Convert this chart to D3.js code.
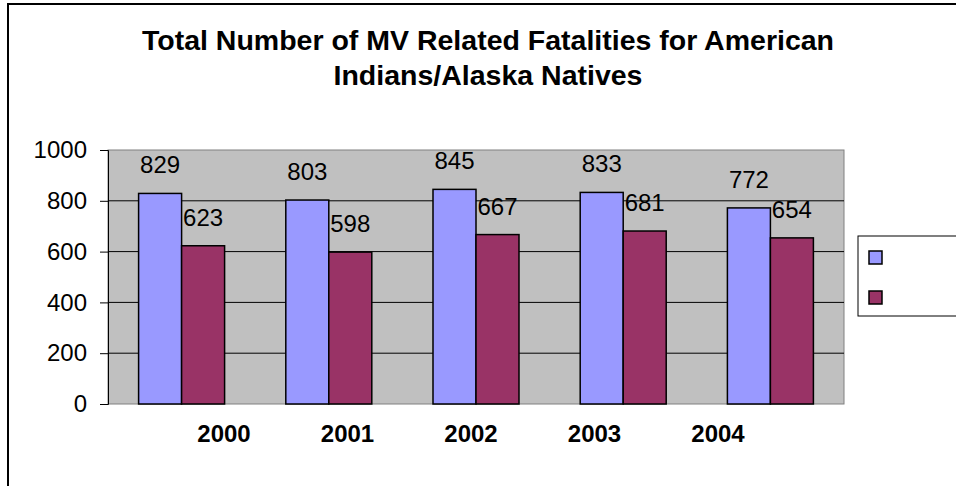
<!DOCTYPE html>
<html>
<head>
<meta charset="utf-8">
<script src="https://cdn.jsdelivr.net/npm/d3@7"></script>
<style>
  body { margin: 0; background: #fff; }
  svg text { font-family: Arial, "Liberation Sans", sans-serif; }
</style>
</head>
<body>
<svg id="chart" width="956" height="486"></svg>
<script>
const years = ['2000', '2001', '2002', '2003', '2004']
const seriesA = [829, 803, 845, 833, 772]
const seriesB = [623, 598, 667, 681, 654]
const yTicks = [0, 200, 400, 600, 800, 1000]
const titleLines = ['Total Number of MV Related Fatalities for American', 'Indians/Alaska Natives']
const colors = ['#9999ff', '#993366']

const svg = d3.select('#chart')

// outer chart border
svg.append('rect')
    .attr('x', 8).attr('y', 4).attr('width', 1000).attr('height', 540)
    .attr('fill', '#fff').attr('stroke', '#000').attr('stroke-width', 2)

const plot = { left: 108, right: 844, top: 150, bottom: 404 }

const x = d3.scaleBand().domain(years).range([plot.left, plot.right])
const y = d3.scaleLinear().domain([0, 1000]).range([plot.bottom, plot.top])
const sub = d3.scaleBand().domain([0, 1]).range([-43, 43])

// plot area
svg.append('rect')
    .attr('x', plot.left).attr('y', plot.top)
    .attr('width', plot.right - plot.left).attr('height', plot.bottom - plot.top)
    .attr('fill', '#c0c0c0').attr('stroke', '#808080').attr('stroke-width', 1)

// gridlines
svg.append('g').selectAll('line').data(yTicks.slice(1, -1)).enter()
    .append('line')
    .attr('x1', plot.left).attr('x2', plot.right)
    .attr('y1', d => y(d)).attr('y2', d => y(d))
    .attr('stroke', '#000').attr('stroke-width', 1)

// y axis
const yaxis = d3.axisLeft(y).tickValues(yTicks).tickFormat(d3.format('d')).tickSize(8).tickPadding(13)
const yg = svg.append('g').attr('transform', `translate(${plot.left},0)`).call(yaxis)
yg.select('.domain').attr('stroke', '#000')
yg.selectAll('.tick line').attr('stroke', '#000')
yg.selectAll('.tick text').attr('font-size', 24).attr('fill', '#000')
    .attr('font-family', 'Arial, "Liberation Sans", sans-serif')

// bars
const rows = years.map((yr, i) => ({ yr, vals: [seriesA[i], seriesB[i]] }))
const groups = svg.append('g').selectAll('g').data(rows).enter()
    .append('g')
    .attr('transform', d => `translate(${x(d.yr) + x.bandwidth() / 2},0)`)

groups.selectAll('rect').data(d => d.vals).enter()
    .append('rect')
    .attr('x', (d, i) => sub(i))
    .attr('y', d => y(d))
    .attr('width', sub.bandwidth())
    .attr('height', d => y(0) - y(d))
    .attr('fill', (d, i) => colors[i])
    .attr('stroke', '#000').attr('stroke-width', 1.5)

groups.selectAll('text').data(d => d.vals).enter()
    .append('text')
    .attr('x', (d, i) => sub(i) + sub.bandwidth() / 2)
    .attr('y', d => y(d) - 20)
    .attr('text-anchor', 'middle')
    .attr('font-size', 24)
    .text(d => d)

// category labels sit shifted from their bands, like the source
const xl = d3.scalePoint().domain(years).range([224, 718])
svg.append('g').selectAll('text').data(years).enter()
    .append('text')
    .attr('x', d => xl(d)).attr('y', 442)
    .attr('text-anchor', 'middle')
    .attr('font-size', 24).attr('font-weight', 'bold')
    .text(d => d)

// title
svg.append('text')
    .attr('text-anchor', 'middle')
    .attr('font-size', 28.5).attr('font-weight', 'bold')
    .selectAll('tspan')
    .data(titleLines)
    .enter().append('tspan')
    .attr('x', 488).attr('y', (d, i) => 50 + i * 35)
    .text(d => d)

// legend (labels fall off the right edge)
const legend = svg.append('g')
legend.append('rect')
    .attr('x', 858).attr('y', 236).attr('width', 120).attr('height', 80)
    .attr('fill', '#fff').attr('stroke', '#000').attr('stroke-width', 1)
legend.selectAll('.sw').data(colors).enter()
    .append('rect')
    .attr('class', 'sw')
    .attr('x', 869).attr('y', (d, i) => 251 + i * 40)
    .attr('width', 13).attr('height', 13)
    .attr('fill', d => d).attr('stroke', '#000').attr('stroke-width', 1.5)
</script>
</body>
</html>
